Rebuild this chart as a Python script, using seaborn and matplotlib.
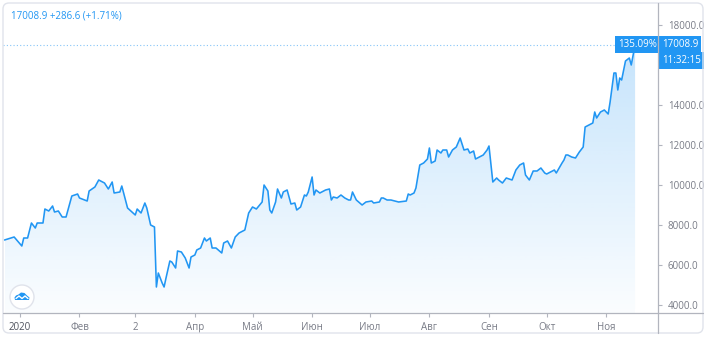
import matplotlib
matplotlib.use('Agg')
import matplotlib.pyplot as plt
import matplotlib.dates as mdates
import matplotlib.transforms as mtransforms
from matplotlib.patches import FancyBboxPatch, Circle, Polygon
from matplotlib.lines import Line2D
import numpy as np
import pandas as pd
import seaborn as sns

# ---------------- data ----------------
dates = [
    '2019-12-24', '2019-12-29', '2020-01-02', '2020-01-03', '2020-01-05', '2020-01-07',
    '2020-01-09', '2020-01-10', '2020-01-13', '2020-01-14', '2020-01-16', '2020-01-18',
    '2020-01-19', '2020-01-21', '2020-01-23', '2020-01-25', '2020-01-28', '2020-01-31',
    '2020-02-01', '2020-02-05', '2020-02-06', '2020-02-09', '2020-02-11', '2020-02-14',
    '2020-02-16', '2020-02-18', '2020-02-19', '2020-02-22', '2020-02-23', '2020-02-26',
    '2020-03-01', '2020-03-02', '2020-03-04', '2020-03-06', '2020-03-07', '2020-03-09',
    '2020-03-11', '2020-03-12', '2020-03-13', '2020-03-15', '2020-03-16', '2020-03-17',
    '2020-03-19', '2020-03-20', '2020-03-22', '2020-03-23', '2020-03-25', '2020-03-27',
    '2020-03-29', '2020-03-30', '2020-04-01', '2020-04-02', '2020-04-04', '2020-04-06',
    '2020-04-07', '2020-04-09', '2020-04-10', '2020-04-12', '2020-04-15', '2020-04-16',
    '2020-04-18', '2020-04-20', '2020-04-22', '2020-04-24', '2020-04-27', '2020-04-29',
    '2020-05-01', '2020-05-03', '2020-05-06', '2020-05-07', '2020-05-09', '2020-05-10',
    '2020-05-11', '2020-05-13', '2020-05-14', '2020-05-16', '2020-05-17', '2020-05-19',
    '2020-05-21', '2020-05-23', '2020-05-24', '2020-05-26', '2020-05-28', '2020-05-29',
    '2020-05-30', '2020-06-01', '2020-06-02', '2020-06-03', '2020-06-05', '2020-06-08',
    '2020-06-10', '2020-06-11', '2020-06-12', '2020-06-14', '2020-06-16', '2020-06-18',
    '2020-06-20', '2020-06-21', '2020-06-22', '2020-06-24', '2020-06-27', '2020-06-29',
    '2020-07-02', '2020-07-03', '2020-07-06', '2020-07-07', '2020-07-08', '2020-07-10',
    '2020-07-12', '2020-07-16', '2020-07-20', '2020-07-21', '2020-07-22', '2020-07-24',
    '2020-07-25', '2020-07-27', '2020-07-29', '2020-07-31', '2020-08-01', '2020-08-02',
    '2020-08-04', '2020-08-05', '2020-08-07', '2020-08-08', '2020-08-10', '2020-08-11',
    '2020-08-13', '2020-08-15', '2020-08-17', '2020-08-19', '2020-08-21', '2020-08-22',
    '2020-08-24', '2020-08-25', '2020-08-27', '2020-08-29', '2020-08-31', '2020-09-01',
    '2020-09-03', '2020-09-05', '2020-09-06', '2020-09-08', '2020-09-10', '2020-09-13',
    '2020-09-15', '2020-09-17', '2020-09-19', '2020-09-20', '2020-09-22', '2020-09-24',
    '2020-09-26', '2020-09-28', '2020-09-30', '2020-10-01', '2020-10-03', '2020-10-05',
    '2020-10-06', '2020-10-09', '2020-10-10', '2020-10-11', '2020-10-12', '2020-10-14',
    '2020-10-16', '2020-10-18', '2020-10-20', '2020-10-21', '2020-10-23', '2020-10-25',
    '2020-10-26', '2020-10-27', '2020-10-29', '2020-10-31', '2020-11-02', '2020-11-03',
    '2020-11-05', '2020-11-06', '2020-11-07', '2020-11-08', '2020-11-09', '2020-11-11',
    '2020-11-13', '2020-11-14', '2020-11-16',
]
prices = [
    7250, 7400, 6950, 7350, 7350, 8100,
    7850, 8100, 8100, 8800, 8700, 8950,
    8650, 8700, 8400, 8400, 9450, 9550,
    9350, 9200, 9700, 9900, 10250, 10100,
    9800, 10150, 9600, 9650, 9950, 8850,
    8500, 8800, 8600, 9100, 8850, 8000,
    7900, 4900, 5600, 5100, 4900, 5350,
    6200, 6150, 5850, 6700, 6650, 6350,
    5850, 6400, 6500, 6750, 6850, 7350,
    7200, 7350, 6850, 6850, 6600, 7100,
    7200, 6850, 7400, 7600, 7750, 8600,
    8900, 8800, 9150, 10000, 9700, 8750,
    8600, 9150, 9800, 9350, 9650, 9750,
    9050, 9100, 8750, 8900, 9500, 9450,
    9650, 10400, 9500, 9750, 9600, 9750,
    9800, 9250, 9400, 9350, 9500, 9350,
    9250, 9250, 9650, 9250, 9000, 9150,
    9200, 9100, 9150, 9350, 9350, 9250,
    9250, 9150, 9200, 9550, 9500, 9600,
    9850, 11000, 11100, 11300, 11850, 11100,
    11200, 11750, 11600, 11750, 11750, 11400,
    11750, 11900, 12350, 11750, 11800, 11600,
    11700, 11300, 11400, 11500, 11750, 11950,
    10150, 10350, 10250, 10100, 10350, 10250,
    10750, 11000, 11100, 10500, 10250, 10700,
    10700, 10850, 10600, 10550, 10650, 10750,
    10600, 11100, 11250, 11500, 11500, 11400,
    11350, 11650, 11900, 12900, 13000, 13100,
    13650, 13350, 13650, 13750, 13550, 14150,
    15600, 15600, 14750, 15350, 15250, 16200,
    16350, 16000, 17008.9,
]
month_ticks = ['2020-01-01', '2020-02-01', '2020-03-01', '2020-04-01', '2020-05-01',
               '2020-06-01', '2020-07-01', '2020-08-01', '2020-09-01', '2020-10-01',
               '2020-11-01']
month_labels = ['2020', 'Фев', '2', 'Апр', 'Май', 'Июн', 'Июл', 'Авг', 'Сен', 'Окт', 'Ноя']
y_ticks = [4000, 6000, 8000, 10000, 12000, 14000, 16000, 18000]
header_text = '17008.9 +286.6 (+1.71%)'
change_label = '135.09%'
last_price = 17008.9
last_price_label = '17008.9'
countdown_label = '11:32:15'

# ---------------- style ----------------
sns.set_theme(style='white')
plt.rcParams['font.family'] = ['Open Sans', 'DejaVu Sans']

BLUE = '#2196f3'
GRID = '#b2b5be'
TXT = '#787b86'
W, H = 709, 337

fig = plt.figure(figsize=(W / 100, H / 100), dpi=100)
fig.patch.set_facecolor('white')
ax = fig.add_axes([3 / W, 24 / H, 655 / W, 305 / H])
ax.set_facecolor('none')

df = pd.DataFrame({'date': pd.to_datetime(dates), 'price': prices})
sns.lineplot(data=df, x='date', y='price', ax=ax, color=BLUE, lw=1.15, zorder=4)

xmin = mdates.date2num(pd.Timestamp('2019-12-23 05:00'))
xmax = mdates.date2num(pd.Timestamp('2020-11-27 22:00'))
ymin, ymax = 3600, 18850

# gradient area under the line
xnum = mdates.date2num(df['date'])
poly = ax.fill_between(xnum, df['price'], ymin, color='none', lw=0)
n = 256
rgba = np.zeros((n, 1, 4))
rgba[..., 0] = 0x21 / 255
rgba[..., 1] = 0x96 / 255
rgba[..., 2] = 0xf3 / 255
rgba[:, 0, 3] = np.linspace(0.02, 0.26, n)
im = ax.imshow(rgba, extent=[xnum[0], xnum[-1], ymin, max(prices)],
               origin='lower', aspect='auto', zorder=2, interpolation='bilinear')
im.set_clip_path(poly.get_paths()[0], ax.transData)

ax.set_xlim(xmin, xmax)
ax.set_ylim(ymin, ymax)

# last-price dotted line
ax.axhline(last_price, color=BLUE, lw=0.8, ls=(0, (1, 2)), alpha=0.55, zorder=3)

# axes / ticks
for s in ax.spines.values():
    s.set_visible(False)
ax.yaxis.tick_right()
ax.set_yticks(y_ticks)
ax.set_yticklabels([f'{v:.1f}' for v in y_ticks])
ax.tick_params(axis='y', which='both', right=True, left=False, length=3, width=0.8,
               color=GRID, labelcolor=TXT, labelsize=7, pad=4, direction='out')
ax.set_xticks(mdates.date2num(pd.to_datetime(month_ticks)))
ax.set_xticklabels(month_labels)
ax.tick_params(axis='x', which='both', bottom=True, length=3, width=0.8, color=GRID,
               labelcolor=TXT, labelsize=7, pad=3.5, direction='out')
ax.get_xticklabels()[0].set_color('#50535e')
ax.set_xlabel('')
ax.set_ylabel('')
ax.grid(False)

# frame lines in pixel space
fig.add_artist(Line2D([3, 703], [H - 313, H - 313], transform=None, color=GRID, lw=0.9))
fig.add_artist(Line2D([658, 658], [H - 333, H - 3], transform=None, color=GRID, lw=0.9))
fig.add_artist(FancyBboxPatch((3, H - 333), 700, 330, boxstyle='round,pad=0,rounding_size=6',
                              transform=None, fc='none', ec='#e0e3eb', lw=1.0))

# header
fig.text(11 / W, 1 - 16 / H, header_text, color=BLUE, fontsize=7, ha='left', va='center')

# price labels
blend = mtransforms.blended_transform_factory(ax.transAxes, ax.transData)
ax.text(0.9985, last_price, change_label, transform=blend, ha='right', va='center',
        color='white', fontsize=7, zorder=6, clip_on=False,
        bbox=dict(boxstyle='square,pad=0.3', fc=BLUE, ec='none'))
ax.annotate(last_price_label, xy=(1.0, last_price), xycoords=blend,
            xytext=(3, 0), textcoords='offset points', ha='left', va='center',
            color='white', fontsize=7, zorder=6, annotation_clip=False,
            bbox=dict(boxstyle='square,pad=0.3', fc=BLUE, ec='none'))
ax.annotate(countdown_label, xy=(1.0, last_price), xycoords=blend,
            xytext=(3, -11), textcoords='offset points', ha='left', va='center',
            color='white', fontsize=7, zorder=6, annotation_clip=False,
            bbox=dict(boxstyle='square,pad=0.3', fc=BLUE, ec='none'))

# logo badge
fig.add_artist(Circle((22, H - 297), 12, transform=None, fc='white', ec='#e0e3eb', lw=1.0,
                      zorder=10))
cx, cy = 22, H - 297
cloud = [(cx - 7, cy - 3), (cx + 7, cy - 3), (cx + 7.5, cy - 0.5), (cx + 5, cy + 1.5),
         (cx + 2.5, cy + 4), (cx - 1, cy + 4.5), (cx - 3.5, cy + 2.5), (cx - 6, cy + 1.5),
         (cx - 7.5, cy - 0.5)]
fig.add_artist(Polygon(cloud, closed=True, transform=None, fc=BLUE, ec='none', zorder=11))
fig.add_artist(Line2D([cx - 6, cx - 3, cx, cx + 3, cx + 6], [cy - 1.5, cy + 1, cy - 1.5, cy + 1, cy - 1.5],
                      transform=None, color='white', lw=1.0, zorder=12))

fig.savefig('out.png', dpi=100, facecolor='white')
